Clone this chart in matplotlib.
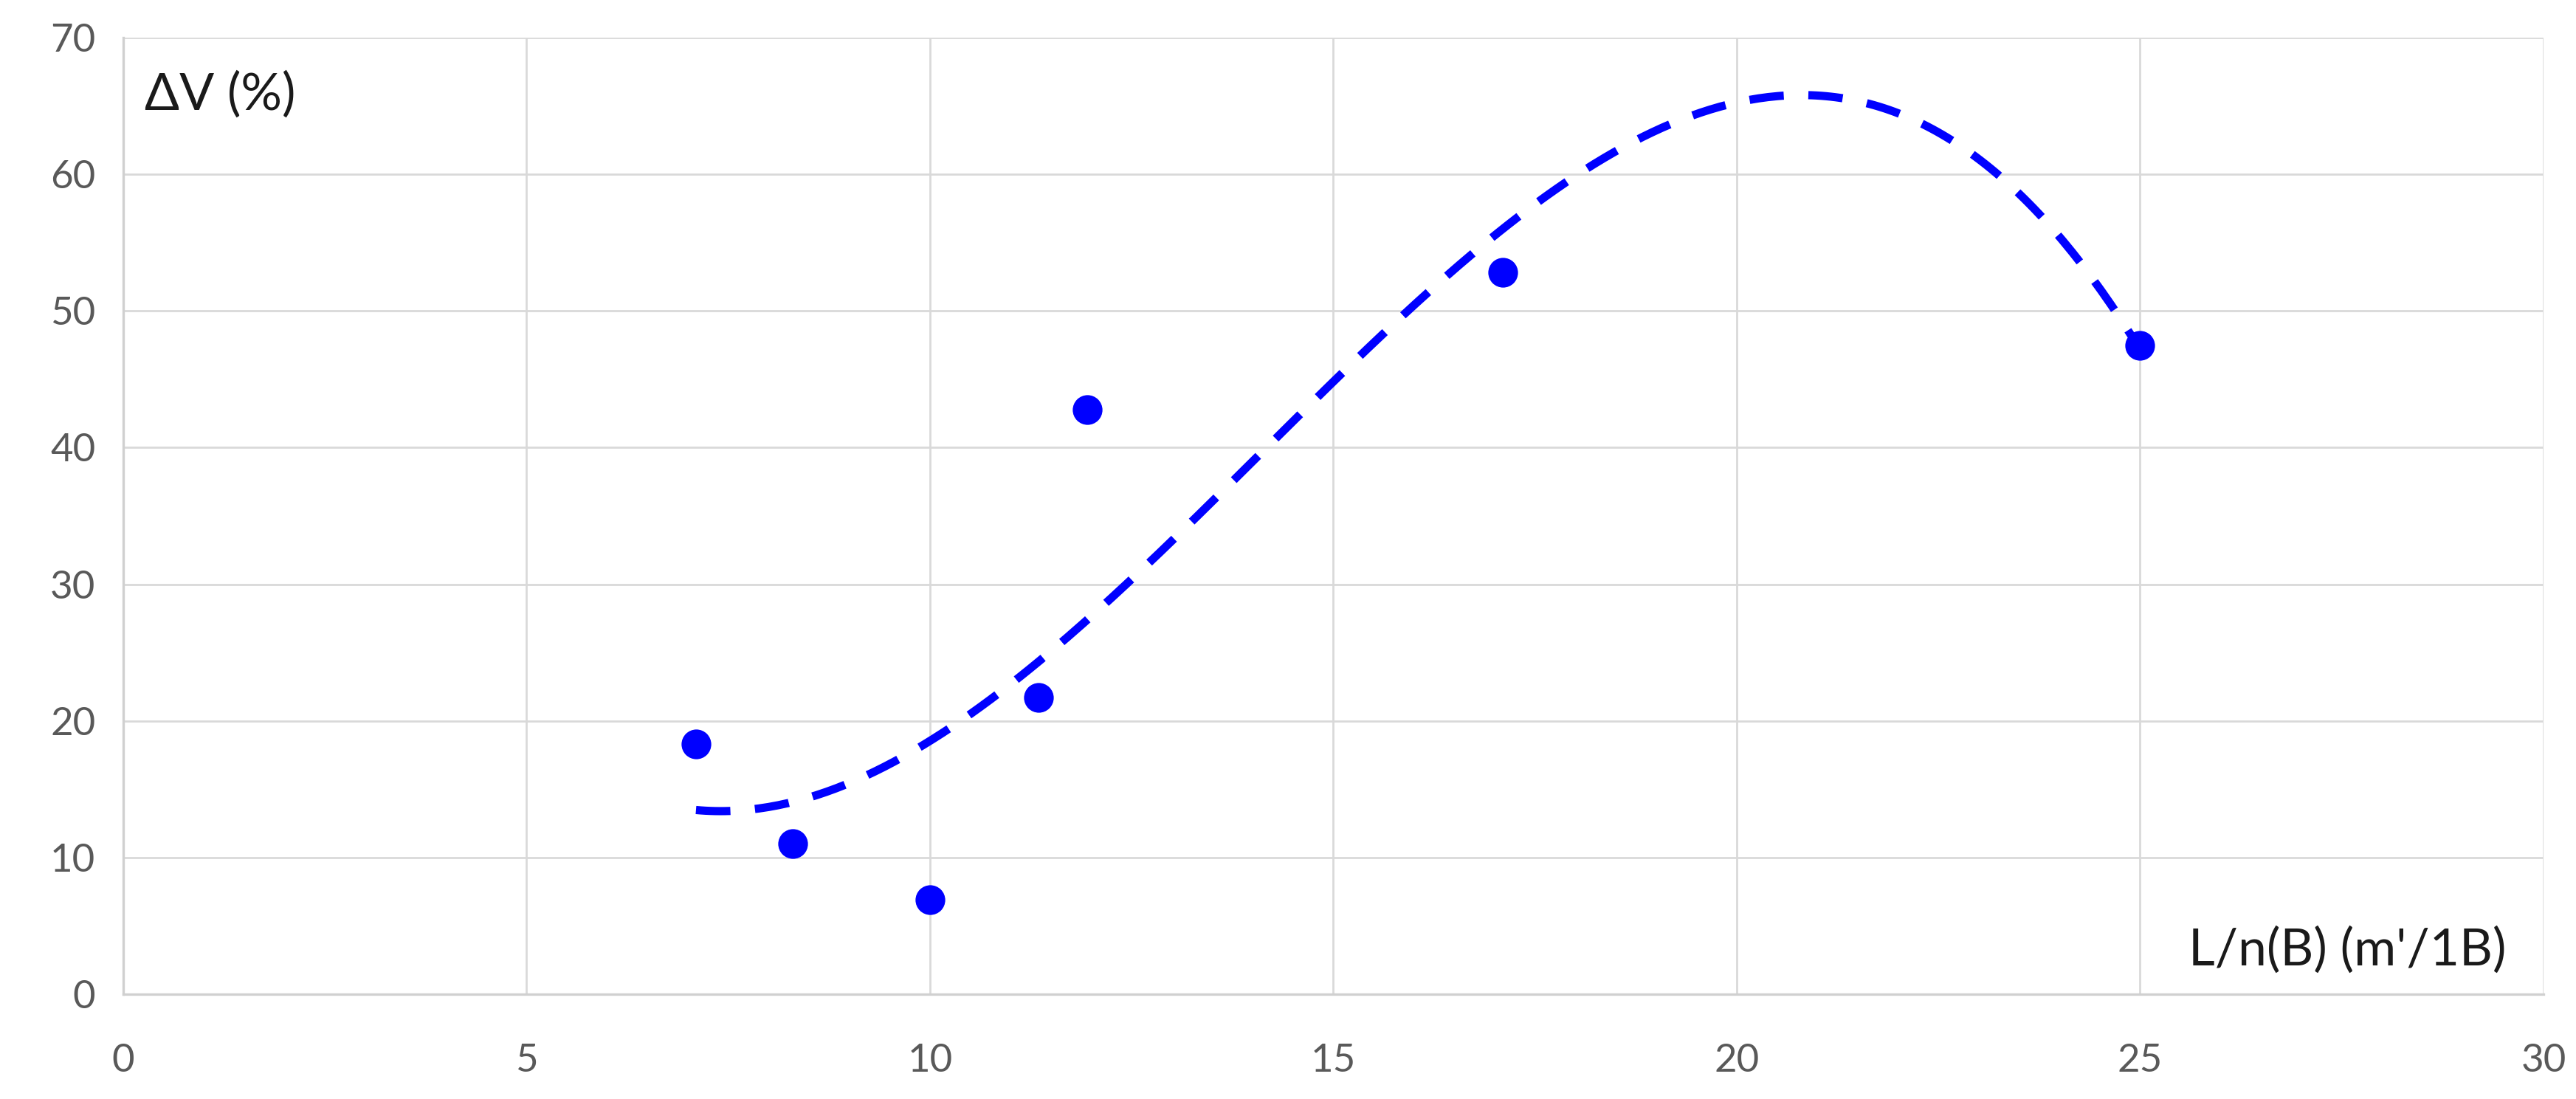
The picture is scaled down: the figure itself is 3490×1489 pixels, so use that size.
import numpy as np
import matplotlib
matplotlib.use("Agg")
import matplotlib.pyplot as plt

# Data
x_vals = [7.1, 8.3, 10.0, 11.35, 11.95, 17.1, 25.0]
y_vals = [18.3, 11.0, 6.9, 21.7, 42.8, 52.8, 47.5]
x_ticks = [0, 5, 10, 15, 20, 25, 30]
y_ticks = [0, 10, 20, 30, 40, 50, 60, 70]
y_label_text = "ΔV (%)"
x_label_text = "L/n(B) (m'/1B)"

plt.rcParams['font.family'] = ['Lato', 'DejaVu Sans']

fig = plt.figure(figsize=(34.91, 14.89), dpi=100)
ax = fig.add_axes([0.0478, 0.0954, 0.9393, 0.8703])

ax.set_xlim(0, 30)
ax.set_ylim(0, 70)
ax.set_xticks(x_ticks)
ax.set_yticks(y_ticks)
ax.grid(True, color='#d9d9d9', linewidth=2.0)
ax.set_axisbelow(True)
for s in ['top', 'right']:
    ax.spines[s].set_visible(False)
for s in ['left', 'bottom']:
    ax.spines[s].set_color('#d0d0d0')
    ax.spines[s].set_linewidth(2.4)
ax.tick_params(length=0, labelsize=38, labelcolor='#595959')
ax.tick_params(axis='y', pad=27)
ax.tick_params(axis='x', pad=48)

# polynomial (order 3) trendline through the data, as in the source chart
coef = np.polyfit(x_vals, y_vals, 3)
xs = np.linspace(min(x_vals), max(x_vals), 300)
ax.plot(xs, np.polyval(coef, xs), color='#0000ff', linewidth=8,
        linestyle=(0, (4.2, 3.0)), zorder=3)

ax.plot(x_vals, y_vals, 'o', color='#0000ff', markersize=29, zorder=4,
        markeredgewidth=0)

ax.text(0.0088, 0.94, y_label_text, transform=ax.transAxes, fontsize=50,
        color='#1a1a1a', ha='left', va='center')
ax.text(0.9845, 0.046, x_label_text, transform=ax.transAxes, fontsize=50,
        color='#1a1a1a', ha='right', va='center')

fig.savefig('out.png', dpi=100, facecolor='white')
